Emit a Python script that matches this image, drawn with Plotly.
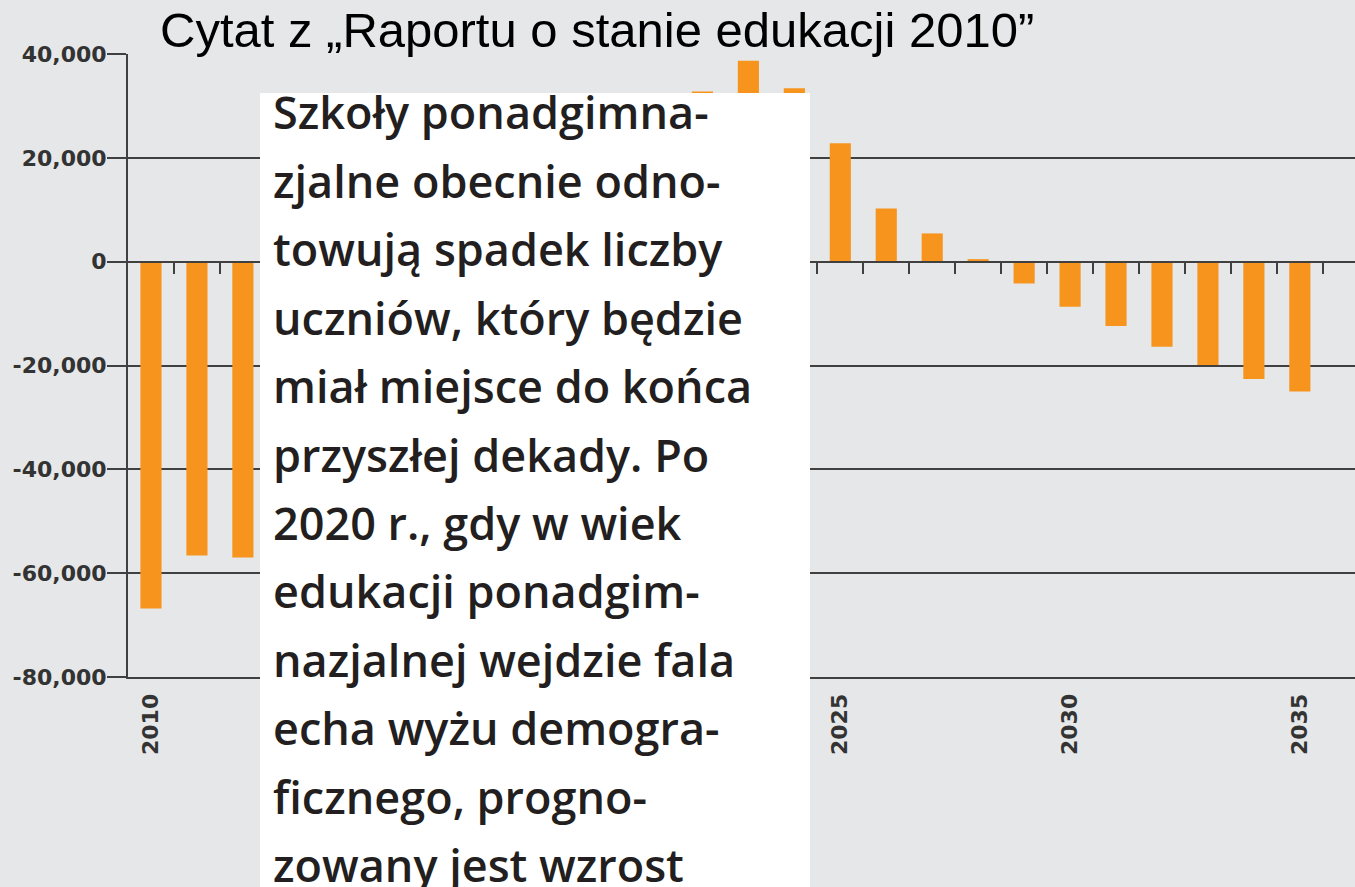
import plotly.graph_objects as go

# ---- data ----
years = list(range(2010, 2036))
values = [-66800, -56600, -57000, -50000, -43000, -35000, -26000, -17000, -8000, -1000,
          8000, 20000, 32800, 38700, 33400, 22800, 10250, 5440, 480, -4200,
          -8700, -12400, -16400, -19900, -22600, -25000]
y_tickvals = [40000, 20000, 0, -20000, -40000, -60000, -80000]
y_ticktext = ["40,000", "20,000", "0", "-20,000", "-40,000", "-60,000", "-80,000"]
x_label_years = [2010, 2015, 2020, 2025, 2030, 2035]
title_text = "Cytat z \u201eRaportu o stanie edukacji 2010\u201d"
quote_lines = [
    "Szkoły ponadgimna-",
    "zjalne obecnie odno-",
    "towują spadek liczby",
    "uczniów, który będzie",
    "miał miejsce do końca",
    "przyszłej dekady. Po",
    "2020 r., gdy w wiek",
    "edukacji ponadgim-",
    "nazjalnej wejdzie fala",
    "echa wyżu demogra-",
    "ficznego, progno-",
    "zowany jest wzrost",
]

# ---- layout geometry (pixels) ----
W, H = 1355, 887
L, R, T, B = 128, 0, 54, 210
PW, PH = W - L - R, H - T - B

def px_x(p):
    return (p - L) / PW

def px_y(p):
    return 1 - (p - T) / PH

BG = "#e6e7e8"
GRID = "#404040"
BAR = "#f7941d"

fig = go.Figure()
fig.add_trace(go.Bar(x=years, y=values, marker=dict(color=BAR, line=dict(width=0)),
                     hoverinfo="x+y", showlegend=False))
# invisible companion trace on the label axis
fig.add_trace(go.Scatter(x=years, y=values, xaxis="x2", mode="markers",
                         marker=dict(opacity=0), hoverinfo="skip", showlegend=False))

boundaries = [y + 0.5 for y in years]
ymin, ymax = -80000, 40000

fig.update_layout(
    width=W, height=H,
    margin=dict(l=L, r=R, t=T, b=B, pad=0),
    paper_bgcolor=BG, plot_bgcolor=BG,
    bargap=0.54,
    xaxis=dict(type="linear", range=[2009.5, 2036.2], anchor="free",
               position=(0 - ymin) / (ymax - ymin),
               showgrid=False, zeroline=False, showline=True, linecolor=GRID, linewidth=2,
               ticks="outside", ticklen=11, tickwidth=2, tickcolor=GRID,
               tickmode="array", tickvals=boundaries, showticklabels=False),
    xaxis2=dict(type="linear", overlaying="x", matches="x", anchor="y", side="bottom",
                showgrid=False, zeroline=False, showline=True, linecolor=GRID, linewidth=2,
                ticks="", tickmode="array", tickvals=x_label_years,
                ticktext=[str(v) for v in x_label_years], tickangle=-90,
                ticklabelstandoff=6,
                tickfont=dict(family="DejaVu Sans", size=22, color="#333333", weight="bold")),
    yaxis=dict(range=[ymin, ymax], showgrid=True, gridcolor=GRID, gridwidth=2,
               zeroline=False, showline=True, linecolor=GRID, linewidth=2,
               ticks="outside", ticklen=19, tickwidth=2, tickcolor=GRID,
               tickmode="array", tickvals=y_tickvals, ticktext=y_ticktext,
               ticklabelstandoff=-4,
               tickfont=dict(family="DejaVu Sans", size=22, color="#333333", weight="bold")),
)

# white quote box
fig.add_shape(type="rect", xref="paper", yref="paper",
              x0=px_x(260), x1=px_x(810), y0=px_y(900), y1=px_y(93),
              fillcolor="white", line=dict(width=0), layer="above")

annotations = [dict(text=title_text, xref="paper", yref="paper",
                    x=px_x(597), y=px_y(30), xanchor="center", yanchor="middle",
                    showarrow=False,
                    font=dict(family="Liberation Sans", size=49, color="black"))]
for i, line in enumerate(quote_lines):
    yc = 118 + 68.4 * i - 6
    annotations.append(dict(text=line, xref="paper", yref="paper",
                            x=px_x(271), y=px_y(yc), xanchor="left", yanchor="middle",
                            showarrow=False,
                            font=dict(family="Open Sans", size=45, color="#231f20",
                                      weight=600)))
fig.update_layout(annotations=annotations)

post = ("document.documentElement.style.margin='0';"
        "document.body.style.margin='0';"
        "document.body.style.overflow='hidden';"
        "document.documentElement.style.background='%s';"
        "document.body.style.background='%s';") % (BG, BG)
fig.write_html("out.html", post_script=post, config={"displayModeBar": False})
